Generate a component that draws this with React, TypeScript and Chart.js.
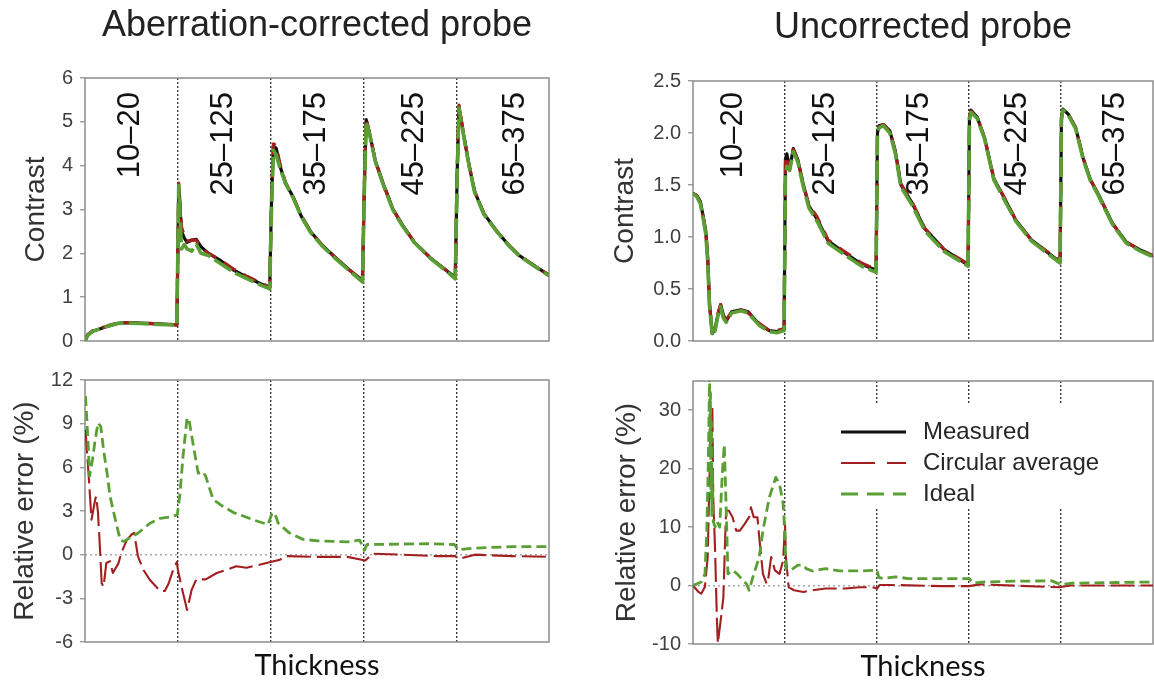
import React, { useEffect, useRef } from "react";
import { Chart, registerables } from "chart.js";

Chart.register(...registerables);

// ================= DATA =================
const segmentBounds = [0, 1, 2, 3, 4, 5];
const segmentLabels = ["10–20", "25–125", "35–175", "45–225", "65–375"];
const segmentLabelXCorrected = [0.49, 1.49, 2.49, 3.55, 4.64];
const segmentLabelXUncorrected = [0.44, 1.44, 2.46, 3.53, 4.59];

const seriesNames = ["Measured", "Circular average", "Ideal"];

const contrastTicksCorrected = [0, 1, 2, 3, 4, 5, 6];
const contrastTicksUncorrected = [0, 0.5, 1, 1.5, 2, 2.5];
const errorTicksCorrected = [-6, -3, 0, 3, 6, 9, 12];
const errorTicksUncorrected = [-10, 0, 10, 20, 30];

// --- Aberration-corrected probe: contrast ---
const xContrastCorrected = [
  0, 0.03, 0.08, 0.15, 0.25, 0.35, 0.45, 0.6, 0.8, 0.99,
  1.01, 1.04, 1.07, 1.1, 1.15, 1.2, 1.25, 1.33, 1.45, 1.6, 1.75, 1.9, 1.99,
  2.01, 2.03, 2.06, 2.1, 2.16, 2.24, 2.33, 2.43, 2.55, 2.7, 2.85, 2.99,
  3.01, 3.03, 3.07, 3.13, 3.22, 3.32, 3.42, 3.55, 3.73, 3.85, 3.99,
  4.01, 4.03, 4.08, 4.14, 4.2, 4.3, 4.44, 4.56, 4.68, 4.84, 5.0,
];
const measuredContrastCorrected = [
  0, 0.14, 0.22, 0.27, 0.34, 0.4, 0.42, 0.41, 0.39, 0.37,
  3.5, 2.5, 2.35, 2.25, 2.3, 2.32, 2.15, 2.0, 1.85, 1.62, 1.45, 1.3, 1.22,
  3.2, 4.45, 4.4, 4.0, 3.6, 3.3, 2.85, 2.5, 2.2, 1.9, 1.62, 1.38,
  3.5, 5.05, 4.7, 4.1, 3.55, 3.0, 2.65, 2.25, 1.88, 1.68, 1.45,
  3.8, 5.35, 4.7, 4.0, 3.4, 2.9, 2.5, 2.2, 1.95, 1.72, 1.5,
];
const circularContrastCorrected = [
  0, 0.15, 0.23, 0.28, 0.35, 0.41, 0.42, 0.41, 0.39, 0.37,
  3.6, 2.6, 2.4, 2.28, 2.3, 2.3, 2.12, 2.0, 1.86, 1.64, 1.47, 1.32, 1.23,
  3.3, 4.5, 4.45, 4.05, 3.62, 3.3, 2.86, 2.5, 2.2, 1.9, 1.62, 1.38,
  3.6, 5.08, 4.7, 4.1, 3.55, 3.0, 2.65, 2.25, 1.88, 1.68, 1.45,
  3.9, 5.38, 4.72, 4.0, 3.4, 2.9, 2.5, 2.2, 1.95, 1.72, 1.5,
];
const idealContrastCorrected = [
  0, 0.13, 0.22, 0.27, 0.34, 0.4, 0.41, 0.4, 0.38, 0.36,
  3.55, 2.1, 2.2, 2.1, 2.05, 2.2, 2.0, 1.95, 1.78, 1.57, 1.42, 1.27, 1.19,
  3.0, 4.35, 4.25, 3.95, 3.6, 3.28, 2.84, 2.48, 2.18, 1.88, 1.6, 1.35,
  3.4, 5.0, 4.68, 4.08, 3.53, 2.98, 2.63, 2.24, 1.87, 1.67, 1.42,
  3.7, 5.32, 4.68, 3.98, 3.38, 2.88, 2.49, 2.19, 1.94, 1.71, 1.49,
];

// --- Uncorrected probe: contrast ---
const xContrastUncorrected = [
  0, 0.04, 0.08, 0.11, 0.14, 0.16, 0.18, 0.21, 0.24, 0.27, 0.3, 0.33, 0.36, 0.42, 0.52, 0.6, 0.72, 0.83, 0.91, 0.99,
  1.005, 1.02, 1.05, 1.09, 1.14, 1.2, 1.26, 1.35, 1.47, 1.63, 1.83, 1.99,
  2.005, 2.02, 2.07, 2.14, 2.2, 2.26, 2.38, 2.52, 2.73, 2.99,
  3.005, 3.02, 3.09, 3.17, 3.27, 3.37, 3.51, 3.68, 3.99,
  4.005, 4.02, 4.08, 4.16, 4.24, 4.32, 4.4, 4.56, 4.71, 4.85, 5.0,
];
const measuredContrastUncorrected = [
  1.42, 1.4, 1.34, 1.2, 1.05, 0.8, 0.35, 0.07, 0.12, 0.25, 0.35, 0.25, 0.19, 0.28, 0.3, 0.28, 0.16, 0.1, 0.09, 0.11,
  1.75, 1.8, 1.65, 1.85, 1.74, 1.5, 1.3, 1.17, 0.96, 0.86, 0.74, 0.68,
  2.0, 2.07, 2.08, 2.02, 1.82, 1.5, 1.33, 1.08, 0.88, 0.73,
  2.15, 2.22, 2.15, 1.95, 1.56, 1.4, 1.16, 0.97, 0.76,
  2.15, 2.23, 2.18, 2.05, 1.76, 1.55, 1.42, 1.13, 0.95, 0.88, 0.82,
];
const circularContrastUncorrected = [
  1.42, 1.4, 1.33, 1.2, 1.04, 0.78, 0.34, 0.08, 0.13, 0.26, 0.35, 0.24, 0.2, 0.28, 0.3, 0.27, 0.17, 0.1, 0.1, 0.12,
  1.72, 1.78, 1.66, 1.84, 1.74, 1.5, 1.31, 1.19, 0.97, 0.87, 0.75, 0.69,
  2.0, 2.06, 2.08, 2.02, 1.82, 1.51, 1.34, 1.08, 0.88, 0.74,
  2.15, 2.21, 2.15, 1.95, 1.56, 1.4, 1.16, 0.97, 0.77,
  2.15, 2.2, 2.18, 2.05, 1.76, 1.55, 1.42, 1.13, 0.95, 0.88, 0.82,
];
const idealContrastUncorrected = [
  1.42, 1.39, 1.32, 1.18, 1.02, 0.76, 0.33, 0.05, 0.1, 0.24, 0.33, 0.22, 0.18, 0.27, 0.29, 0.27, 0.15, 0.09, 0.08, 0.1,
  1.6, 1.68, 1.64, 1.82, 1.72, 1.48, 1.28, 1.15, 0.94, 0.84, 0.72, 0.66,
  1.98, 2.05, 2.07, 2.0, 1.8, 1.48, 1.31, 1.06, 0.86, 0.72,
  2.12, 2.2, 2.14, 1.94, 1.55, 1.38, 1.15, 0.96, 0.75,
  2.12, 2.22, 2.17, 2.04, 1.75, 1.54, 1.41, 1.12, 0.94, 0.87, 0.81,
];

// --- Aberration-corrected probe: relative error (%) ---
const xIdealErrorCorrected = [
  0.005, 0.02, 0.05, 0.08, 0.11, 0.14, 0.17, 0.2, 0.24, 0.27,
  0.32, 0.38, 0.42, 0.48, 0.57, 0.7, 0.81, 0.93, 0.995, 1.02,
  1.06, 1.1, 1.12, 1.17, 1.22, 1.27, 1.3, 1.38, 1.49, 1.6,
  1.81, 1.97, 2.02, 2.06, 2.08, 2.2, 2.35, 2.51, 2.83, 2.96,
  3.01, 3.04, 3.1, 3.42, 3.73, 3.98, 4.02, 4.2, 4.6, 5.0,
];
const idealErrorCorrected = [
  10.9, 9.3, 5.4, 6.5, 7.9, 9.05, 8.8, 7.2, 5.5, 4.0,
  2.6, 1.0, 0.9, 1.15, 1.47, 2.16, 2.5, 2.6, 2.75, 4.0,
  7.0, 9.4, 9.3, 7.4, 5.6, 5.7, 5.4, 3.8, 3.3, 2.9,
  2.4, 2.07, 2.9, 2.6, 2.18, 1.5, 1.05, 0.95, 0.88, 1.0,
  0.3, 0.7, 0.7, 0.73, 0.75, 0.7, 0.35, 0.45, 0.55, 0.55,
];
const xCircularErrorCorrected = [
  0.005, 0.02, 0.04, 0.07, 0.11, 0.12, 0.14, 0.16, 0.18, 0.2,
  0.23, 0.27, 0.3, 0.36, 0.39, 0.45, 0.5, 0.53, 0.57, 0.63,
  0.7, 0.81, 0.86, 0.9, 0.95, 0.99, 1.0, 1.04, 1.1, 1.15,
  1.2, 1.3, 1.42, 1.53, 1.63, 1.74, 1.89, 2.0, 2.1, 2.16,
  2.45, 2.83, 2.98, 3.02, 3.1, 3.42, 3.8, 3.99, 4.02, 4.2,
  4.6, 5.0,
];
const circularErrorCorrected = [
  8.6, 7.2, 5.4, 2.4, 3.8, 4.0, 2.9, 0.57, -1.97, -2.2,
  -0.57, -0.45, -1.26, -0.6, 0.1, 1.0, 1.37, 1.5, -0.1, -1.05,
  -1.74, -2.5, -2.5, -2.0, -1.05, -0.5, -1.0, -2.2, -3.8, -2.4,
  -1.7, -1.7, -1.26, -1.03, -0.8, -0.9, -0.68, -0.5, -0.35, -0.1,
  -0.15, -0.15, -0.35, -0.4, 0.07, 0.0, -0.1, -0.1, -0.3, 0.0,
  -0.1, -0.15,
];

// --- Uncorrected probe: relative error (%) ---
const xIdealErrorUncorrected = [
  0, 0.09, 0.13, 0.15, 0.165, 0.175, 0.18, 0.185, 0.19, 0.195,
  0.2, 0.205, 0.21, 0.22, 0.24, 0.26, 0.29, 0.32, 0.34, 0.36,
  0.38, 0.43, 0.48, 0.53, 0.58, 0.61, 0.65, 0.72, 0.76, 0.83,
  0.9, 0.94, 0.98, 1.0, 1.01, 1.06, 1.14, 1.2, 1.23, 1.3,
  1.44, 1.59, 1.81, 1.95, 2.0, 2.02, 2.07, 2.2, 2.34, 3.0,
  3.05, 3.14, 3.52, 3.9, 4.0, 4.12, 4.94, 5.0,
];
const idealErrorUncorrected = [
  0, 0.6, 2.0, 9.4, 20, 30, 36, 22, 33, 15,
  28, 12, 20, 11, 10, 11, 10, 19.6, 24.1, 13.5,
  2.0, 2.6, 2.0, 1.1, 0.3, -0.8, 1.4, 4.9, 9.4, 15.1,
  18.5, 17.4, 14, 8.3, 2.9, 2.6, 3.5, 3.5, 2.9, 2.5,
  2.9, 2.5, 2.5, 2.6, 2.6, 1.4, 1.2, 1.5, 1.2, 1.2,
  0.4, 0.6, 0.75, 0.8, 0.15, 0.4, 0.6, 0.6,
];
const xCircularErrorUncorrected = [
  0, 0.06, 0.09, 0.13, 0.16, 0.18, 0.19, 0.2, 0.21, 0.22,
  0.24, 0.26, 0.27, 0.28, 0.31, 0.33, 0.35, 0.36, 0.39, 0.43,
  0.47, 0.51, 0.56, 0.61, 0.63, 0.66, 0.7, 0.72, 0.76, 0.8,
  0.82, 0.85, 0.89, 0.94, 0.98, 1.0, 1.01, 1.04, 1.1, 1.2,
  1.3, 1.44, 1.66, 1.81, 1.95, 2.0, 2.03, 2.2, 2.7, 3.0,
  3.12, 3.98, 4.1, 5.0,
];
const circularErrorUncorrected = [
  0, -1.1, -1.4, -0.2, 4.9, 19, 28, 22, 30.5, 15,
  6.1, -5.9, -9.9, -8.6, -4.8, -2.0, 8.3, 12.8, 12.8, 11.7,
  9.4, 9.4, 10.5, 11.7, 13.4, 11.7, 11.7, 8.3, 2.0, 0.3,
  1.4, 4.9, 2.6, 2.0, 4.3, 10.5, 4.9, -0.3, -0.8, -1.1,
  -0.8, -0.5, -0.5, -0.3, -0.3, -0.5, 0.1, 0.1, -0.1, -0.1,
  0.2, -0.3, 0.0, 0.0,
];

// ================= STYLE =================
const FONT = "'Liberation Sans', Arial, Helvetica, sans-serif";
const AXIS_TITLE_FONT = "Lato, 'Open Sans', sans-serif";
const COLOR_MEASURED = "#111111";
const COLOR_CIRCULAR = "#a21f1f";
const COLOR_IDEAL = "#5a9f34";
const FRAME_COLOR = "#8c8c8c";

function lineDs(label: string, xs: number[], ys: number[], color: string, width: number, dash: number[], order: number) {
  return {
    label,
    data: xs.map((x, i) => ({ x, y: ys[i] })),
    borderColor: color,
    backgroundColor: color,
    borderWidth: width,
    borderDash: dash,
    borderCapStyle: "butt",
    borderJoinStyle: "round",
    pointRadius: 0,
    tension: 0,
    fill: false,
    order,
  };
}

const framePlugin = {
  id: "frame",
  beforeDatasetsDraw(chart: any) {
    const { ctx, chartArea: a } = chart;
    ctx.save();
    ctx.strokeStyle = FRAME_COLOR;
    ctx.lineWidth = 1.5;
    ctx.setLineDash([]);
    ctx.strokeRect(a.left, a.top, a.right - a.left, a.bottom - a.top);
    ctx.restore();
  },
};

function makeSegmentLabelPlugin(labels: string[], xs: number[], offset: number) {
  return {
    id: "segmentLabels",
    afterDatasetsDraw(chart: any) {
      const { ctx, chartArea, scales } = chart;
      ctx.save();
      ctx.font = `31px ${FONT}`;
      ctx.fillStyle = "#111111";
      ctx.textAlign = "right";
      ctx.textBaseline = "middle";
      labels.forEach((t, i) => {
        const x = scales.x.getPixelForValue(xs[i]);
        ctx.save();
        ctx.translate(x, chartArea.top + offset);
        ctx.rotate(-Math.PI / 2);
        ctx.fillText(t, 0, 0);
        ctx.restore();
      });
      ctx.restore();
    },
  };
}

const legendStyles = [
  { color: COLOR_MEASURED, width: 3, dash: [] as number[] },
  { color: COLOR_CIRCULAR, width: 2, dash: [34, 12] },
  { color: COLOR_IDEAL, width: 3, dash: [17, 9] },
];

const legendPlugin = {
  id: "errorLegend",
  beforeDatasetsDraw(chart: any) {
    const { ctx, chartArea: a } = chart;
    const boxL = a.left + 139;
    const boxT = a.top + 23;
    const boxR = Math.min(a.left + 420, a.right - 1);
    const boxB = a.top + 126;
    ctx.save();
    ctx.fillStyle = "#ffffff";
    ctx.fillRect(boxL, boxT, boxR - boxL, boxB - boxT);
    seriesNames.forEach((name, i) => {
      const y = a.top + 51 + i * 31;
      const st = legendStyles[i];
      ctx.beginPath();
      ctx.strokeStyle = st.color;
      ctx.lineWidth = st.width;
      ctx.setLineDash(st.dash);
      ctx.moveTo(a.left + 148, y);
      ctx.lineTo(a.left + 213, y);
      ctx.stroke();
      ctx.setLineDash([]);
      ctx.fillStyle = "#262626";
      ctx.font = `24px ${FONT}`;
      ctx.textAlign = "left";
      ctx.textBaseline = "middle";
      ctx.fillText(name, a.left + 230, y);
    });
    ctx.restore();
  },
};

function xScale(withTitle: boolean, axisHeight: number, titlePad: number) {
  return {
    type: "linear",
    min: 0,
    max: 5,
    afterBuildTicks: (s: any) => {
      s.ticks = segmentBounds.map((v) => ({ value: v }));
    },
    ticks: { display: false },
    grid: {
      drawTicks: false,
      drawOnChartArea: true,
      lineWidth: 1.4,
      color: (c: any) =>
        c.tick && (c.tick.value === 0 || c.tick.value === 5) ? "rgba(0,0,0,0)" : "#3a3a3a",
    },
    border: { display: false, dash: [2, 2] },
    title: withTitle
      ? {
          display: true,
          text: "Thickness",
          color: "#111111",
          font: { family: AXIS_TITLE_FONT, size: 29, lineHeight: 1 },
          padding: { top: 0, bottom: titlePad },
        }
      : { display: false },
    afterFit: (s: any) => {
      s.height = axisHeight;
    },
  };
}

function yScale(
  min: number,
  max: number,
  tickValues: number[],
  fmt: (v: number) => string,
  title: string,
  titlePad: number,
  axisWidth: number,
  zeroLine: boolean
) {
  return {
    type: "linear",
    min,
    max,
    afterBuildTicks: (s: any) => {
      s.ticks = tickValues.map((v) => ({ value: v }));
    },
    ticks: {
      color: "#404040",
      font: { family: FONT, size: 20 },
      padding: 7,
      callback: (v: any) => fmt(Number(v)),
    },
    grid: {
      drawOnChartArea: zeroLine,
      drawTicks: true,
      tickLength: 5,
      tickColor: FRAME_COLOR,
      tickWidth: 1.2,
      lineWidth: 1.5,
      color: (c: any) => (c.tick && c.tick.value === 0 ? "#a8a8a8" : "rgba(0,0,0,0)"),
    },
    border: { display: false, dash: [2, 3] },
    title: {
      display: true,
      text: title,
      color: "#333333",
      font: { family: FONT, size: 28 },
      padding: { top: titlePad, bottom: 0 },
    },
    afterFit: (s: any) => {
      s.width = axisWidth;
    },
  };
}

const commonPlugins = {
  legend: { display: false },
  tooltip: { enabled: false },
};

function topTitle(text: string, top: number, bottom: number) {
  return {
    display: true,
    text,
    fullSize: false,
    color: "#222222",
    font: { family: FONT, size: 36, weight: "normal", lineHeight: 1.2 },
    padding: { top, bottom },
  };
}

function buildTopLeft(): any {
  return {
    type: "line",
    data: {
      datasets: [
        lineDs(seriesNames[0], xContrastCorrected, measuredContrastCorrected, COLOR_MEASURED, 3.2, [], 3),
        lineDs(seriesNames[1], xContrastCorrected, circularContrastCorrected, COLOR_CIRCULAR, 3.2, [14, 9], 2),
        lineDs(seriesNames[2], xContrastCorrected, idealContrastCorrected, COLOR_IDEAL, 3.6, [20, 5], 1),
      ],
    },
    options: {
      responsive: false,
      animation: false,
      events: [],
      layout: { padding: { left: 0, top: 0, right: 31, bottom: 17 } },
      plugins: { ...commonPlugins, title: topTitle("Aberration-corrected probe", 4.4, 30.4) },
      scales: {
        x: xScale(false, 0, 0),
        y: yScale(0, 6, contrastTicksCorrected, (v) => String(v), "Contrast", 19, 85, false),
      },
    },
    plugins: [framePlugin, makeSegmentLabelPlugin(segmentLabels, segmentLabelXCorrected, 14)],
  };
}

function buildTopRight(): any {
  return {
    type: "line",
    data: {
      datasets: [
        lineDs(seriesNames[0], xContrastUncorrected, measuredContrastUncorrected, COLOR_MEASURED, 3.2, [], 3),
        lineDs(seriesNames[1], xContrastUncorrected, circularContrastUncorrected, COLOR_CIRCULAR, 3.2, [14, 9], 2),
        lineDs(seriesNames[2], xContrastUncorrected, idealContrastUncorrected, COLOR_IDEAL, 3.6, [20, 5], 1),
      ],
    },
    options: {
      responsive: false,
      animation: false,
      events: [],
      layout: { padding: { left: 0, top: 0, right: 7, bottom: 17 } },
      plugins: { ...commonPlugins, title: topTitle("Uncorrected probe", 6.4, 31.4) },
      scales: {
        x: xScale(false, 0, 0),
        y: yScale(0, 2.5, contrastTicksUncorrected, (v) => v.toFixed(1), "Contrast", 8.2, 93, false),
      },
    },
    plugins: [framePlugin, makeSegmentLabelPlugin(segmentLabels, segmentLabelXUncorrected, 11)],
  };
}

function buildBottomLeft(): any {
  return {
    type: "line",
    data: {
      datasets: [
        lineDs(seriesNames[1], xCircularErrorCorrected, circularErrorCorrected, COLOR_CIRCULAR, 2.1, [24, 6], 2),
        lineDs(seriesNames[2], xIdealErrorCorrected, idealErrorCorrected, COLOR_IDEAL, 2.8, [10, 5], 1),
      ],
    },
    options: {
      responsive: false,
      animation: false,
      events: [],
      layout: { padding: { left: 0, top: 20, right: 31, bottom: 0 } },
      plugins: { ...commonPlugins },
      scales: {
        x: xScale(true, 39, 0.5),
        y: yScale(-6, 12, errorTicksCorrected, (v) => String(v), "Relative error (%)", 8.8, 85, true),
      },
    },
    plugins: [framePlugin],
  };
}

function buildBottomRight(): any {
  return {
    type: "line",
    data: {
      datasets: [
        lineDs(seriesNames[1], xCircularErrorUncorrected, circularErrorUncorrected, COLOR_CIRCULAR, 2.1, [24, 6], 2),
        lineDs(seriesNames[2], xIdealErrorUncorrected, idealErrorUncorrected, COLOR_IDEAL, 2.8, [10, 5], 1),
      ],
    },
    options: {
      responsive: false,
      animation: false,
      events: [],
      layout: { padding: { left: 0, top: 21, right: 7, bottom: 0 } },
      plugins: { ...commonPlugins },
      scales: {
        x: xScale(true, 37, 0),
        y: yScale(-10, 35, errorTicksUncorrected, (v) => String(v), "Relative error (%)", 10.2, 93, true),
      },
    },
    plugins: [framePlugin, legendPlugin],
  };
}

function ChartPanel(props: { left: number; top: number; width: number; height: number; build: () => any }) {
  const ref = useRef<HTMLCanvasElement | null>(null);
  useEffect(() => {
    if (!ref.current) return;
    const chart = new Chart(ref.current, props.build());
    return () => chart.destroy();
  }, []);
  return (
    <canvas
      ref={ref}
      width={props.width}
      height={props.height}
      style={{
        position: "absolute",
        left: props.left,
        top: props.top,
        width: props.width,
        height: props.height,
        display: "block",
      }}
    />
  );
}

export default function App() {
  return (
    <div
      style={{
        position: "absolute",
        left: 0,
        top: 0,
        width: 1154,
        height: 681,
        overflow: "hidden",
        background: "#ffffff",
      }}
    >
      <ChartPanel left={0} top={0} width={580} height={360} build={buildTopLeft} />
      <ChartPanel left={600} top={0} width={560} height={360} build={buildTopRight} />
      <ChartPanel left={0} top={360} width={580} height={321} build={buildBottomLeft} />
      <ChartPanel left={600} top={360} width={560} height={321} build={buildBottomRight} />
    </div>
  );
}
